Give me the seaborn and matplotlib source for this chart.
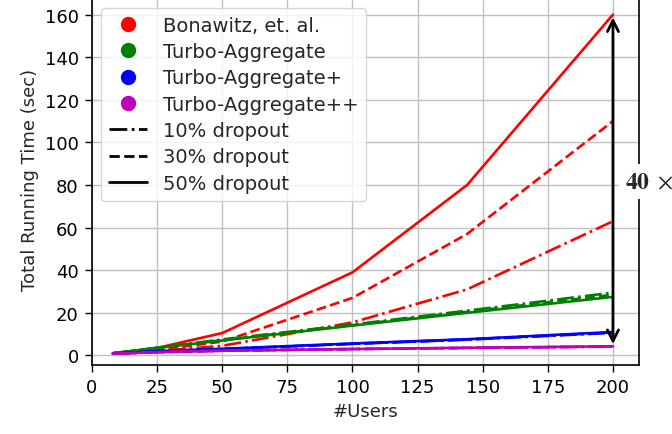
import pandas as pd
import matplotlib
matplotlib.use("Agg")
import matplotlib.pyplot as plt
import seaborn as sns
from matplotlib.lines import Line2D

# ------------------ DATOS ------------------
users = [8, 25, 50, 100, 144, 200]

methods = ["Bonawitz, et. al.", "Turbo-Aggregate", "Turbo-Aggregate+", "Turbo-Aggregate++"]
dropouts = ["10% dropout", "30% dropout", "50% dropout"]
colors = ["r", "g", "b", "m"]

bon_10 = [1.0, 2.0, 4.5, 15.5, 31.0, 63.0]
bon_30 = [1.0, 2.5, 6.5, 27.0, 57.0, 110.0]
bon_50 = [1.0, 3.5, 10.5, 39.0, 80.0, 160.0]

ta_10 = [1.0, 3.6, 7.5, 14.5, 21.0, 29.5]
ta_30 = [1.0, 3.5, 7.2, 14.2, 20.5, 28.5]
ta_50 = [1.0, 3.5, 7.0, 14.0, 20.0, 27.5]

tap_10 = [0.8, 2.0, 3.0, 5.4, 7.4, 10.6]
tap_30 = [0.8, 2.0, 3.0, 5.5, 7.5, 10.8]
tap_50 = [0.8, 2.0, 3.1, 5.6, 7.6, 11.0]

tapp_10 = [0.8, 1.5, 2.2, 3.0, 3.5, 4.1]
tapp_30 = [0.8, 1.5, 2.2, 3.0, 3.5, 4.2]
tapp_50 = [0.8, 1.5, 2.2, 3.0, 3.6, 4.3]

series = {
    methods[0]: [bon_10, bon_30, bon_50],
    methods[1]: [ta_10, ta_30, ta_50],
    methods[2]: [tap_10, tap_30, tap_50],
    methods[3]: [tapp_10, tapp_30, tapp_50],
}

rows = []
for m in methods:
    for d, vals in zip(dropouts, series[m]):
        for u, v in zip(users, vals):
            rows.append({"users": u, "time": v, "method": m, "dropout": d})
df = pd.DataFrame(rows)

# ------------------ GRAFICO ------------------
sns.set_style("ticks", {"axes.grid": True, "grid.color": "#c0c0c0",
                        "axes.edgecolor": "black", "xtick.color": "black",
                        "ytick.color": "black"})
plt.rcParams["font.family"] = ["DejaVu Sans"]
plt.rcParams["mathtext.fontset"] = "stix"

fig = plt.figure(figsize=(6.72, 4.35), dpi=100)
ax = fig.add_axes([0.1369, 0.1586, 0.814, 0.8545])

dash_map = {"10% dropout": (6.4, 1.6, 1, 1.6), "30% dropout": (3.7, 1.6), "50% dropout": ""}
sns.lineplot(data=df, x="users", y="time", hue="method", style="dropout",
             palette=dict(zip(methods, colors)), dashes=dash_map,
             linewidth=1.9, legend=False, ax=ax)

ax.set_xlim(0, 210)
ax.set_ylim(-4.5, 170)
ax.set_xticks(range(0, 201, 25))
ax.set_yticks(range(0, 161, 20))
ax.tick_params(labelsize=13, length=5, width=1, pad=4.5)
ax.grid(True, color="#c0c0c0", linewidth=1)
ax.set_xlabel("#Users", fontsize=13)
ax.set_ylabel("Total Running Time (sec)", fontsize=13)
for s in ax.spines.values():
    s.set_linewidth(1.2)

ax.annotate("", xy=(200, 160), xytext=(200, 4),
            arrowprops=dict(arrowstyle="<->", color="black", lw=2, mutation_scale=20))
ax.text(204.5, 81.5, r"$\mathbf{40}\ \times$", fontsize=17, va="center", ha="left",
        bbox=dict(fc="white", ec="none", pad=4), clip_on=False, zorder=10)

handles = [Line2D([], [], marker="o", color=c, linestyle="none", markersize=10) for c in colors]
handles += [Line2D([], [], color="black", linestyle=ls, linewidth=2) for ls in ["-.", "--", "-"]]
labels = methods + dropouts
ax.legend(handles, labels, loc="upper left", bbox_to_anchor=(92 / 672, 1.0),
          bbox_transform=fig.transFigure, fontsize=14, labelspacing=0.38,
          borderaxespad=0.45, framealpha=0.8)

fig.savefig("out.png", dpi=100)
